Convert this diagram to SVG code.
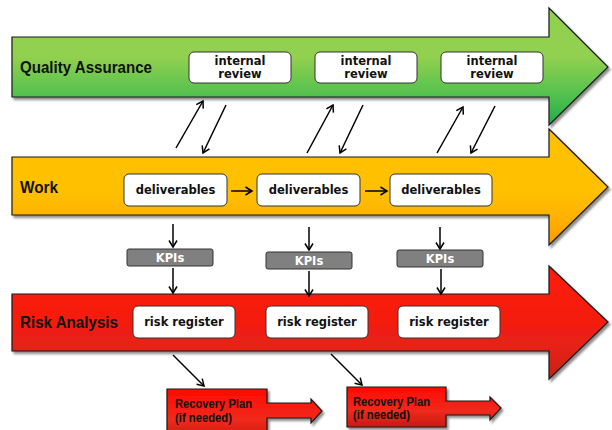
<svg xmlns="http://www.w3.org/2000/svg" width="612" height="430" viewBox="0 0 612 430">
<defs>
<linearGradient id="gGreen" x1="0" y1="0" x2="0" y2="1">
<stop offset="0" stop-color="#92d050"/>
<stop offset="0.42" stop-color="#92d050"/>
<stop offset="0.76" stop-color="#4fc04f"/>
<stop offset="1" stop-color="#1fae4a"/>
</linearGradient>
<linearGradient id="gOrange" x1="0" y1="0" x2="0" y2="1">
<stop offset="0" stop-color="#ffc000"/>
<stop offset="0.55" stop-color="#ffc000"/>
<stop offset="0.78" stop-color="#ffb000"/>
<stop offset="1" stop-color="#ff9a00"/>
</linearGradient>
<linearGradient id="gRed" x1="0" y1="0" x2="0" y2="1">
<stop offset="0" stop-color="#ff1a0a"/>
<stop offset="0.5" stop-color="#f41c10"/>
<stop offset="0.78" stop-color="#e02418"/>
<stop offset="1" stop-color="#c42012"/>
</linearGradient>
<linearGradient id="gRec" x1="0" y1="0" x2="0" y2="1">
<stop offset="0" stop-color="#ff0a00"/>
<stop offset="0.6" stop-color="#f02a1c"/>
<stop offset="1" stop-color="#c81a10"/>
</linearGradient>
<filter id="sh" x="-5%" y="-5%" width="115%" height="120%">
<feDropShadow dx="2" dy="2.5" stdDeviation="0.8" flood-color="#000" flood-opacity="0.45"/>
</filter>
<marker id="ah" markerWidth="12" markerHeight="12" refX="9" refY="6" orient="auto" markerUnits="userSpaceOnUse">
<path d="M2.5,2 L9,6 L2.5,10" fill="none" stroke="#000" stroke-width="1.5"/>
</marker>
<style>
.band{stroke:#1a1a1a;stroke-width:1.2;filter:url(#sh)}
.box{fill:#fff;stroke:#333;stroke-width:1}
.kpi{fill:#808080;stroke:#333;stroke-width:1}
.lbl{font-family:"Liberation Sans",Arial,sans-serif;font-weight:bold;font-size:16px;fill:#111}
.t{font-family:"DejaVu Sans",Verdana,sans-serif;font-weight:bold;font-size:11.5px;fill:#111;text-anchor:middle}
.tk{font-family:"DejaVu Sans",Verdana,sans-serif;font-weight:bold;font-size:11.5px;fill:#fff;text-anchor:middle}
.rt{font-family:"Liberation Sans",Arial,sans-serif;font-weight:bold;font-size:12px;fill:#111}
.c{stroke:#000;stroke-width:1.5;fill:none;marker-end:url(#ah)}
</style>
</defs>

<g id="quality-assurance">
<path class="band" fill="url(#gGreen)" d="M12,37 H549 V8 L608,67 L549,125 V97 H12 Z"/>
<text class="lbl" x="20" y="73" textLength="132" lengthAdjust="spacingAndGlyphs">Quality Assurance</text>
</g>
<g id="work">
<path class="band" fill="url(#gOrange)" d="M12,157 H549 V129 L608,187 L549,245 V215 H12 Z"/>
<text class="lbl" x="20" y="193" textLength="38" lengthAdjust="spacingAndGlyphs">Work</text>
</g>
<g id="risk-analysis">
<path class="band" fill="url(#gRed)" d="M12,294 H549 V266 L608,322 L549,379 V351 H12 Z"/>
<text class="lbl" x="20" y="328" textLength="98" lengthAdjust="spacingAndGlyphs">Risk Analysis</text>
</g>

<g id="review-1"><rect class="box" x="189" y="52" width="102" height="31" rx="5"/><text class="t" x="240" y="65">internal</text><text class="t" x="240" y="78">review</text></g>
<g id="review-2"><rect class="box" x="315" y="52" width="102" height="31" rx="5"/><text class="t" x="366" y="65">internal</text><text class="t" x="366" y="78">review</text></g>
<g id="review-3"><rect class="box" x="441" y="52" width="102" height="31" rx="5"/><text class="t" x="492" y="65">internal</text><text class="t" x="492" y="78">review</text></g>

<g id="deliverables-1"><rect class="box" x="124" y="174" width="103" height="32" rx="5"/><text class="t" x="175.5" y="194">deliverables</text></g>
<g id="deliverables-2"><rect class="box" x="257" y="174" width="103" height="32" rx="5"/><text class="t" x="308.5" y="194">deliverables</text></g>
<g id="deliverables-3"><rect class="box" x="390" y="174" width="102" height="32" rx="5"/><text class="t" x="441" y="194">deliverables</text></g>

<g id="kpi-1"><rect class="kpi" x="127" y="249" width="86" height="17" rx="2"/><text class="tk" x="170" y="261.5">KPIs</text></g>
<g id="kpi-2"><rect class="kpi" x="266" y="252" width="86" height="17" rx="2"/><text class="tk" x="309" y="264.5">KPIs</text></g>
<g id="kpi-3"><rect class="kpi" x="397" y="250" width="86" height="17" rx="2"/><text class="tk" x="440" y="262.5">KPIs</text></g>

<g id="risk-register-1"><rect class="box" x="133" y="306" width="102" height="32" rx="5"/><text class="t" x="184" y="326">risk register</text></g>
<g id="risk-register-2"><rect class="box" x="266" y="306" width="102" height="32" rx="5"/><text class="t" x="317" y="326">risk register</text></g>
<g id="risk-register-3"><rect class="box" x="398" y="306" width="102" height="32" rx="5"/><text class="t" x="449" y="326">risk register</text></g>

<g id="recovery-plan-1">
<path class="band" fill="url(#gRec)" d="M167,389 H267 V403 H311 V399 L322,411 L311,423 V418 H267 V440 H167 Z"/>
<text class="rt" x="175" y="408" textLength="77" lengthAdjust="spacingAndGlyphs">Recovery Plan</text>
<text class="rt" x="175" y="422" textLength="57" lengthAdjust="spacingAndGlyphs">(if needed)</text>
</g>
<g id="recovery-plan-2">
<path class="band" fill="url(#gRec)" d="M347,387 H446 V401 H490 V397 L501,408 L490,420 V415 H446 V427 H347 Z"/>
<text class="rt" x="353" y="406" textLength="77" lengthAdjust="spacingAndGlyphs">Recovery Plan</text>
<text class="rt" x="353" y="419" textLength="57" lengthAdjust="spacingAndGlyphs">(if needed)</text>
</g>

<g id="connectors">
<line class="c" x1="176" y1="148" x2="203" y2="101"/>
<line class="c" x1="226" y1="105" x2="203" y2="153"/>
<line class="c" x1="307" y1="153" x2="333" y2="105"/>
<line class="c" x1="363" y1="105" x2="340" y2="153"/>
<line class="c" x1="437" y1="153" x2="463" y2="107"/>
<line class="c" x1="495" y1="106" x2="471" y2="153"/>
<line class="c" x1="231" y1="191" x2="252" y2="191"/>
<line class="c" x1="365" y1="191" x2="387" y2="191"/>
<line class="c" x1="173" y1="224" x2="173" y2="247"/>
<line class="c" x1="309" y1="227" x2="309" y2="250"/>
<line class="c" x1="440" y1="227" x2="440" y2="249"/>
<line class="c" x1="173" y1="268" x2="173" y2="293"/>
<line class="c" x1="309" y1="271" x2="309" y2="296"/>
<line class="c" x1="441" y1="269" x2="441" y2="294"/>
<line class="c" x1="173" y1="355" x2="204" y2="386"/>
<line class="c" x1="331" y1="354" x2="362" y2="385"/>
</g>
</svg>
